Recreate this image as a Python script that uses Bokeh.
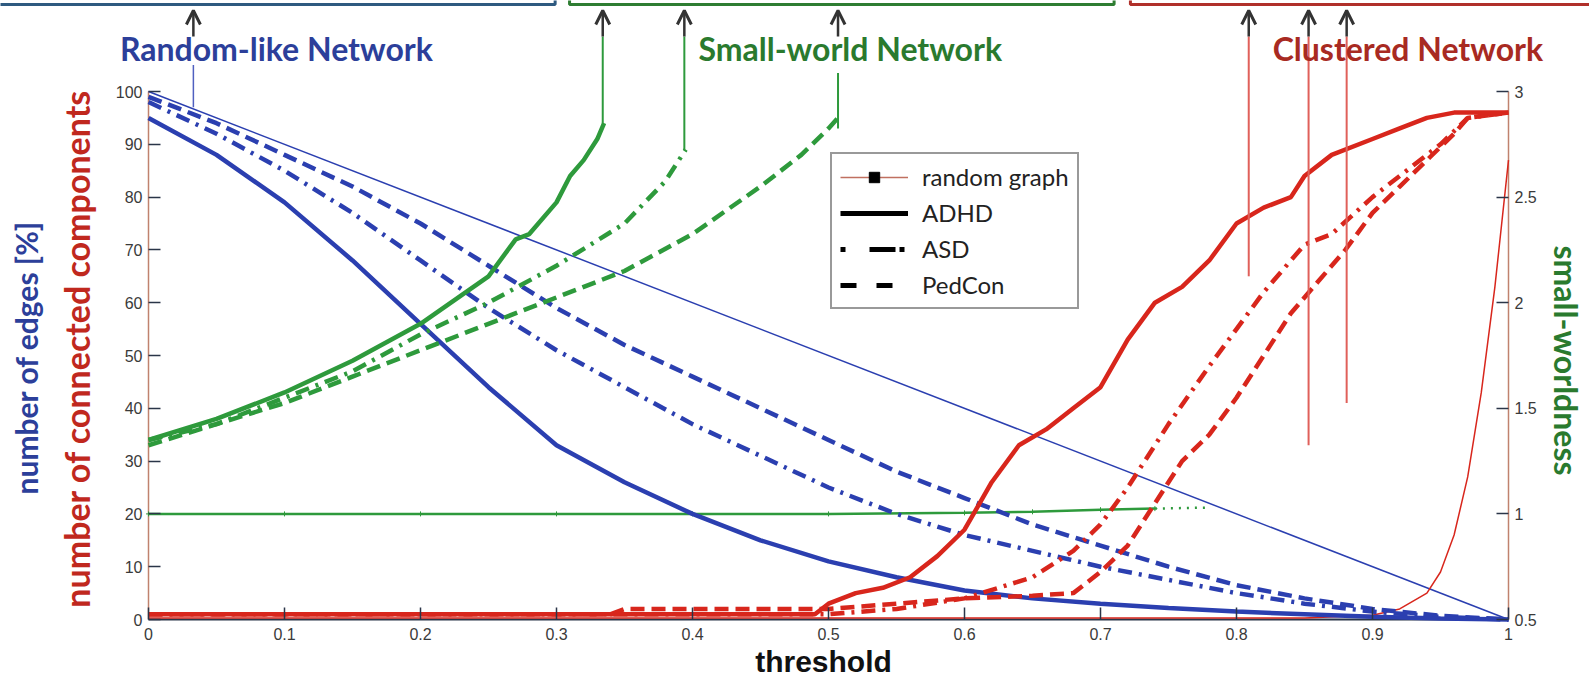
import math
from bokeh.plotting import figure
from bokeh.models import (Range1d, LinearAxis, FixedTicker, Label, Arrow, OpenHead,
                          Legend, LegendItem, ColumnDataSource)
from bokeh.embed import file_html
from bokeh.resources import INLINE

# ---------------- data ----------------
thr = [0, 0.05, 0.1, 0.15, 0.2, 0.25, 0.3, 0.35, 0.4, 0.45, 0.5,
       0.55, 0.6, 0.65, 0.7, 0.75, 0.8, 0.85, 0.9, 0.95, 1.0]
edges_adhd = [95, 88, 79, 68, 56, 44, 33, 26, 20, 15, 11, 8, 5.5, 4, 3, 2.2, 1.5, 1, 0.5, 0.2, 0]
edges_asd = [98, 92, 85, 77, 68, 59, 51, 44, 37, 31, 25, 20, 16, 13, 10, 7.5, 5, 3, 1.5, 0.5, 0]
edges_ped = [99, 94, 88, 82, 75, 67, 59, 52, 46, 40, 34, 28, 23, 18, 14, 10, 6.5, 4, 2, 0.7, 0]
edges_rand_x = [0, 1]
edges_rand = [100, 0]

sw_adhd_x = [0, 0.05, 0.1, 0.15, 0.2, 0.25, 0.27, 0.28, 0.3, 0.31, 0.32, 0.33, 0.335]
sw_adhd = [1.35, 1.45, 1.575, 1.725, 1.9, 2.125, 2.3, 2.325, 2.475, 2.6, 2.675, 2.775, 2.85]
sw_asd_x = [0, 0.05, 0.1, 0.15, 0.2, 0.25, 0.3, 0.35, 0.38, 0.395]
sw_asd = [1.35, 1.425, 1.55, 1.675, 1.85, 2.0, 2.175, 2.375, 2.575, 2.725]
sw_ped_x = [0, 0.05, 0.1, 0.15, 0.2, 0.25, 0.3, 0.35, 0.4, 0.45, 0.48, 0.5, 0.507]
sw_ped = [1.325, 1.425, 1.525, 1.65, 1.775, 1.9, 2.025, 2.15, 2.325, 2.55, 2.7, 2.825, 2.875]
sw_rand_x = [0, 0.1, 0.2, 0.3, 0.4, 0.5, 0.6, 0.65, 0.7, 0.74]
sw_rand = [1.0, 1.0, 1.0, 1.0, 1.0, 1.0, 1.005, 1.01, 1.02, 1.025]
sw_rand_tail_x = [0.74, 0.78]
sw_rand_tail = [1.025, 1.03]

cc_adhd_x = [0, 0.49, 0.5, 0.52, 0.54, 0.56, 0.58, 0.6, 0.62, 0.64, 0.66, 0.68, 0.7, 0.72,
             0.74, 0.76, 0.78, 0.8, 0.82, 0.84, 0.85, 0.87, 0.9, 0.92, 0.94, 0.96, 1.0]
cc_adhd = [1, 1, 3, 5, 6, 8, 12, 17, 26, 33, 36, 40, 44, 53, 60, 63, 68, 75, 78, 80, 84, 88,
           91, 93, 95, 96, 96]
cc_asd_x = [0, 0.5, 0.55, 0.6, 0.65, 0.68, 0.7, 0.72, 0.75, 0.78, 0.8, 0.82, 0.85, 0.87,
            0.9, 0.92, 0.95, 0.97, 1.0]
cc_asd = [1, 1, 2, 4, 8, 13, 18, 25, 37, 48, 55, 62, 71, 73, 80, 84, 90, 95, 96]
cc_ped_x = [0, 0.34, 0.35, 0.5, 0.55, 0.6, 0.65, 0.68, 0.7, 0.72, 0.74, 0.76, 0.78, 0.8,
            0.82, 0.84, 0.86, 0.88, 0.9, 0.92, 0.94, 0.96, 0.97, 1.0]
cc_ped = [1, 1, 2, 2, 3, 4, 4.5, 5, 9, 14, 22, 30, 35, 42, 50, 58, 64, 70, 77, 82, 87, 92, 95, 96]
cc_rand_x = [0, 0.85, 0.9, 0.92, 0.94, 0.95, 0.96, 0.97, 0.98, 0.99, 1.0]
cc_rand = [0.3, 0.3, 0.8, 2, 5, 9, 16, 27, 43, 63, 87]

x_ticks = [0, 0.1, 0.2, 0.3, 0.4, 0.5, 0.6, 0.7, 0.8, 0.9, 1.0]
x_tick_labels = ["0", "0.1", "0.2", "0.3", "0.4", "0.5", "0.6", "0.7", "0.8", "0.9", "1"]
y_ticks = [0, 10, 20, 30, 40, 50, 60, 70, 80, 90, 100]
y_tick_labels = ["0", "10", "20", "30", "40", "50", "60", "70", "80", "90", "100"]
sw_ticks = [0.5, 1, 1.5, 2, 2.5, 3]
sw_tick_labels = ["0.5", "1", "1.5", "2", "2.5", "3"]

group_names = ["Random-like Network", "Small-world Network", "Clustered Network"]
group_x = [0.094, 0.516, 0.926]
marker_thr_small = [0.334, 0.394, 0.507]       # small-world thresholds (ADHD, ASD, PedCon)
marker_thr_clustered = [0.809, 0.853, 0.881]   # clustered thresholds
marker_thr_random = [0.033]
clustered_line_bottom = [65, 33, 41]
small_line_bottom = [94, 89, 93]
legend_labels = ["random graph", "ADHD", "ASD", "PedCon"]

# ---------------- styling ----------------
BLUE = "#2b3fb0"
RED = "#d8261c"
GREEN = "#2e9a3c"
BLUE_T = "#2c3f9a"
GREEN_T = "#2a7a2e"
RED_T = "#a82a22"
DARK = "#333333"
TICK = "#2a3548"
AXIS_V = "#c0826e"
FONT = "Lato"

W, H = 1589, 677
# pixel mapping: threshold 0 -> x=148, 1 -> x=1508 ; value 0 -> y=619, 100 -> y=91
XPX, YPX = 1360.0, 5.28
x0px, y0px = 148.0, 619.0
xr = Range1d(-x0px / XPX, 1 + (W - x0px - XPX) / XPX)
yr = Range1d(-(H - y0px) / YPX, y0px / YPX)
p = figure(width=W, height=H, output_backend="svg", toolbar_location=None,
           x_range=xr, y_range=yr, x_axis_location=None, y_axis_location=None,
           min_border_left=0, min_border_right=0, min_border_top=0, min_border_bottom=0)
p.outline_line_color = None
p.background_fill_color = "white"
p.border_fill_color = "white"
for g in p.xgrid + p.ygrid:
    g.visible = False
p.extra_y_ranges = {"sw": Range1d(0.5 + yr.start * 0.025, 0.5 + yr.end * 0.025)}


def style_axis(ax, ticks, labels):
    ax.ticker = FixedTicker(ticks=ticks)
    ax.major_label_overrides = {t: l for t, l in zip(ticks, labels)}
    ax.axis_line_color = None
    ax.major_tick_in = 12
    ax.major_tick_out = 0
    ax.minor_tick_line_color = None
    ax.major_tick_line_color = TICK
    ax.major_tick_line_width = 1.5
    ax.major_label_text_font = "Liberation Sans"
    ax.major_label_text_font_size = "16px"
    ax.major_label_text_color = "#3a3a3a"


xaxis = LinearAxis(fixed_location=0)
style_axis(xaxis, x_ticks, x_tick_labels)
xaxis.major_label_standoff = 8
p.add_layout(xaxis, "below")

yaxis = LinearAxis(fixed_location=0)
style_axis(yaxis, y_ticks, y_tick_labels)
yaxis.major_label_standoff = 6
p.add_layout(yaxis, "left")

raxis = LinearAxis(fixed_location=1, y_range_name="sw")
style_axis(raxis, sw_ticks, sw_tick_labels)
raxis.major_label_standoff = 6
p.add_layout(raxis, "right")

# axis lines (only spanning the data area)
p.segment(x0=[0, 1], y0=[0, 0], x1=[0, 1], y1=[100, 100], line_color=AXIS_V, line_width=1.5)
p.segment(x0=[0], y0=[0], x1=[1], y1=[0], line_color=TICK, line_width=2)

# ---------------- curves ----------------
p.line(edges_rand_x, edges_rand, line_color=BLUE, line_width=1.5)
p.line(cc_rand_x, cc_rand, line_color=RED, line_width=1.5)
p.line(sw_rand_x, sw_rand, line_color=GREEN, line_width=2.5, y_range_name="sw")
p.scatter(sw_rand_x, sw_rand, marker="cross", size=5, line_color=GREEN, y_range_name="sw")
p.line(sw_rand_tail_x, sw_rand_tail, line_color=GREEN, line_width=2.5, line_dash="2 6",
       y_range_name="sw")

DASH_ASD = "14 7 3 7"
DASH_PED = "14 7"
LW = 4.5

p.line(thr, edges_ped, line_color=BLUE, line_width=LW, line_dash=DASH_PED)
p.line(thr, edges_asd, line_color=BLUE, line_width=LW, line_dash=DASH_ASD)
p.line(thr, edges_adhd, line_color=BLUE, line_width=LW)

p.line(cc_ped_x, cc_ped, line_color=RED, line_width=LW, line_dash=DASH_PED)
p.line(cc_asd_x, cc_asd, line_color=RED, line_width=LW, line_dash=DASH_ASD)
p.line(cc_adhd_x, cc_adhd, line_color=RED, line_width=LW)

p.line(sw_ped_x, sw_ped, line_color=GREEN, line_width=LW, line_dash=DASH_PED, y_range_name="sw")
p.line(sw_asd_x, sw_asd, line_color=GREEN, line_width=LW, line_dash=DASH_ASD, y_range_name="sw")
p.line(sw_adhd_x, sw_adhd, line_color=GREEN, line_width=LW, y_range_name="sw")

# ---------------- annotations ----------------
TOP_BOX = (y0px - 4) / YPX
ARROW_TOP = (y0px - 10) / YPX
ARROW_BOT = (y0px - 36) / YPX

box_x = [[-0.2, 0.299, 0.299], [0.3096, 0.3096, 0.710, 0.710], [0.722, 0.722, 1.2]]
box_y = [[TOP_BOX, TOP_BOX, 130], [130, TOP_BOX, TOP_BOX, 130], [130, TOP_BOX, TOP_BOX]]
box_c = ["#2e5a80", "#2e7d32", "#b0302a"]
for bx, by, bc in zip(box_x, box_y, box_c):
    p.line(bx, by, line_color=bc, line_width=3)

p.segment(x0=marker_thr_random, y0=[97], x1=marker_thr_random, y1=[105], line_color="#5060c0",
          line_width=1.5)
p.segment(x0=marker_thr_small[:2], y0=small_line_bottom[:2], x1=marker_thr_small[:2],
          y1=[ARROW_BOT, ARROW_BOT], line_color=GREEN, line_width=2)
p.segment(x0=marker_thr_small[2:], y0=small_line_bottom[2:], x1=marker_thr_small[2:],
          y1=[103.5], line_color=GREEN, line_width=2)
p.segment(x0=marker_thr_clustered, y0=clustered_line_bottom, x1=marker_thr_clustered,
          y1=[ARROW_BOT] * 3, line_color="#e0605a", line_width=2)

arrow_x = marker_thr_random + marker_thr_small + marker_thr_clustered
arr_src = ColumnDataSource(dict(x=arrow_x, y0=[ARROW_BOT] * len(arrow_x),
                                y1=[ARROW_TOP] * len(arrow_x)))
p.add_layout(Arrow(end=OpenHead(size=14, line_width=3, line_color=DARK),
                   x_start="x", y_start="y0", x_end="x", y_end="y1", source=arr_src,
                   line_color=DARK, line_width=2.5))

for name, gx, col in zip(group_names, group_x, [BLUE_T, GREEN_T, RED_T]):
    p.add_layout(Label(x=gx, y=(y0px - 48) / YPX, text=name, text_font=FONT,
                       text_font_style="bold", text_font_size="32px", text_color=col,
                       text_align="center", text_baseline="middle"))

p.add_layout(Label(x=(25 - x0px) / XPX, y=(y0px - 357) / YPX, text="number of edges [%]",
                   angle=math.pi / 2, text_font=FONT, text_font_style="bold",
                   text_font_size="30px", text_color=BLUE_T, text_align="center",
                   text_baseline="middle"))
p.add_layout(Label(x=(76 - x0px) / XPX, y=(y0px - 348) / YPX,
                   text="number of connected components", angle=math.pi / 2,
                   text_font=FONT, text_font_style="bold", text_font_size="34px",
                   text_color="#c0281e", text_align="center", text_baseline="middle"))
p.add_layout(Label(x=(1566 - x0px) / XPX, y=(y0px - 360) / YPX, text="small-worldness",
                   angle=-math.pi / 2, text_font=FONT, text_font_style="bold",
                   text_font_size="32px", text_color=GREEN_T, text_align="center",
                   text_baseline="middle"))
p.add_layout(Label(x=(823 - x0px) / XPX, y=(y0px - 661) / YPX, text="threshold",
                   text_font="Liberation Sans", text_font_style="bold",
                   text_font_size="30px", text_color="#111111", text_align="center",
                   text_baseline="middle"))

# ---------------- legend ----------------
far_x, far_y = [-5, -4], [-500, -500]
lr_line = p.line(x=far_x, y=far_y, line_color="#c07060", line_width=1.5)
lr_pts = p.scatter(x=far_x, y=far_y, marker="square", size=7, fill_color="black",
                   line_color="black")
l_adhd = p.line(x=far_x, y=far_y, line_color="black", line_width=5)
l_asd = p.line(x=far_x, y=far_y, line_color="black", line_width=5, line_dash="5 24 26 4")
l_ped = p.line(x=far_x, y=far_y, line_color="black", line_width=5, line_dash="16 20")
legend = Legend(items=[LegendItem(label=legend_labels[0], renderers=[lr_line, lr_pts]),
                       LegendItem(label=legend_labels[1], renderers=[l_adhd]),
                       LegendItem(label=legend_labels[2], renderers=[l_asd]),
                       LegendItem(label=legend_labels[3], renderers=[l_ped])],
                location=(830, H - 309))
legend.label_text_font = FONT
legend.label_text_font_size = "24px"
legend.label_text_color = "#222222"
legend.glyph_width = 68
legend.glyph_height = 26
legend.label_height = 26
legend.label_standoff = 14
legend.spacing = 7
legend.padding = 8
legend.margin = 0
legend.border_line_color = "#333333"
legend.border_line_width = 2
legend.background_fill_alpha = 1
p.add_layout(legend, "center")

open("out.html", "w").write(file_html(p, INLINE))
